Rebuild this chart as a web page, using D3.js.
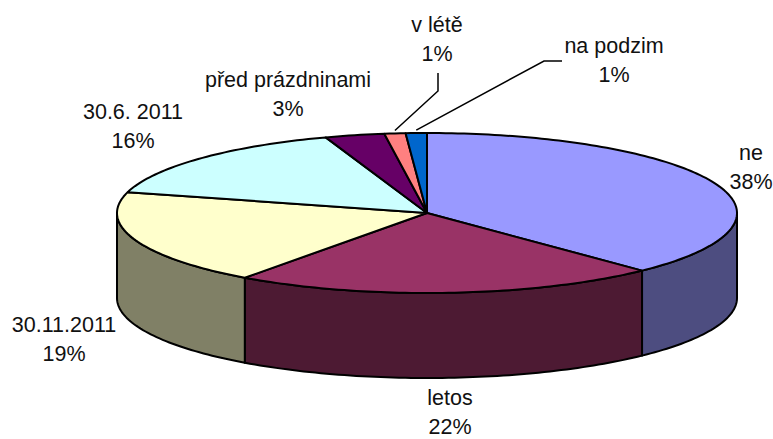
<!DOCTYPE html>
<html>
<head>
<meta charset="utf-8">
<script src="https://cdn.jsdelivr.net/npm/d3@7"></script>
<style>
  html, body { margin: 0; padding: 0; background: #fff; overflow: hidden; }
  svg { display: block; }
  text { font-family: "Liberation Sans", Arial, sans-serif; font-size: 21.5px; fill: #111; text-anchor: middle; }
</style>
</head>
<body>
<div id="chart"></div>
<script>
const categories = ['ne', 'letos', '30.11.2011', '30.6. 2011', 'před prázdninami', 'v létě', 'na podzim']
const values = [37.8, 22.2, 19.2, 15.5, 3.1, 1.1, 1.1]
const topColors = ['#9999ff', '#993366', '#ffffcc', '#ccffff', '#660066', '#ff8080', '#0066cc']
const sideColors = ['#4d4d80', '#4d1a33', '#808066', '#668080', '#330033', '#804040', '#003366']

// label centres, one per category
const labelX = [751, 450, 64, 133, 288, 437, 614]
const labelY = [160, 405, 332, 119, 87, 32, 53]
// leader line bends: from the label down to the slice
const leaders = {
  'v létě': [[438, 73], [438, 91]],
  'na podzim': [[562, 61], [544, 61]]
}

const width = 773
const height = 439
const cx = 427
const cy = 213
const rx = 310
const ry = 80
const depth = 85

const svg = d3.select('#chart').append('svg')
  .attr('width', width)
  .attr('height', height)

const arcs = d3.pie().sort(null).value(d => d)(values)

const px = a => cx + rx * Math.sin(a)
const py = a => cy - ry * Math.cos(a)

function rim(a0, a1, dy) {
  const n = Math.max(2, Math.ceil((a1 - a0) / 0.02))
  return d3.range(n + 1).map(i => {
    const a = a0 + (a1 - a0) * i / n
    return [px(a), py(a) + dy]
  })
}
const line = d3.line()

// side walls, only the part of the rim that faces the viewer
const front0 = Math.PI / 2
const front1 = Math.PI * 3 / 2
svg.append('g').selectAll('path')
  .data(arcs.filter(d => d.endAngle > front0 && d.startAngle < front1))
  .enter()
  .append('path')
  .attr('d', d => {
    const a0 = Math.max(d.startAngle, front0)
    const a1 = Math.min(d.endAngle, front1)
    return line(rim(a0, a1, 0).concat(rim(a0, a1, depth).reverse())) + 'Z'
  })
  .attr('fill', d => sideColors[d.index])
  .attr('stroke', '#000')
  .attr('stroke-width', 2)
  .attr('stroke-linejoin', 'round')

// top face
svg.append('g').selectAll('path')
  .data(arcs)
  .enter()
  .append('path')
  .attr('d', d => line([[cx, cy]].concat(rim(d.startAngle, d.endAngle, 0))) + 'Z')
  .attr('fill', d => topColors[d.index])
  .attr('stroke', '#000')
  .attr('stroke-width', 2)
  .attr('stroke-linejoin', 'round')

// leader lines end just above the rim at the middle of the slice
svg.append('g').selectAll('path')
  .data(arcs.filter(d => leaders[categories[d.index]]))
  .enter()
  .append('path')
  .attr('d', d => {
    const mid = (d.startAngle + d.endAngle) / 2
    return line(leaders[categories[d.index]].concat([[px(mid), py(mid) - 3]]))
  })
  .attr('fill', 'none')
  .attr('stroke', '#000')
  .attr('stroke-width', 1.5)

const labels = svg.append('g').selectAll('text')
  .data(arcs)
  .enter()
  .append('text')
  .attr('x', d => labelX[d.index])
  .attr('y', d => labelY[d.index])

labels.append('tspan')
  .attr('x', d => labelX[d.index])
  .text(d => categories[d.index])
labels.append('tspan')
  .attr('x', d => labelX[d.index])
  .attr('dy', 29)
  .text(d => Math.round(d.value) + '%')
</script>
</body>
</html>
